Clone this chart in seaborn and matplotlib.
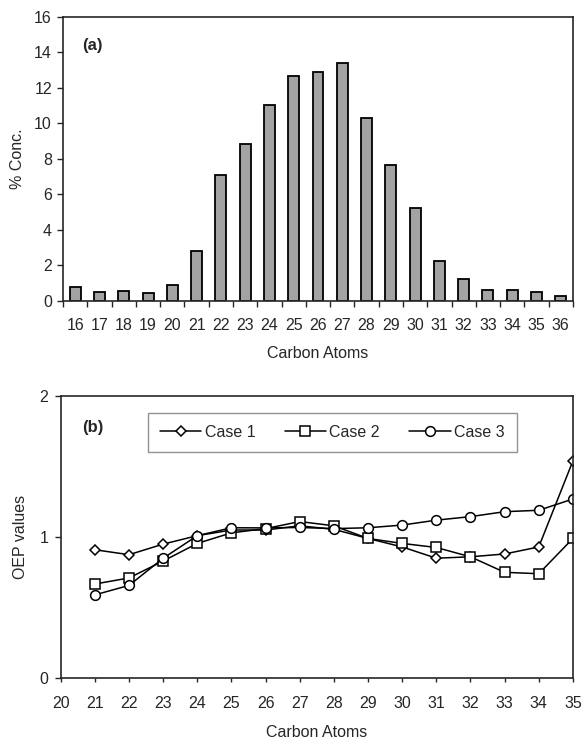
import numpy as np
import pandas as pd
import seaborn as sns
import matplotlib.pyplot as plt

# panel (a): n-alkane distribution
carbon_a = [16, 17, 18, 19, 20, 21, 22, 23, 24, 25, 26,
            27, 28, 29, 30, 31, 32, 33, 34, 35, 36]
conc = [0.8, 0.47, 0.56, 0.43, 0.9, 2.83, 7.1, 8.85, 11.03, 12.7, 12.92,
        13.39, 10.31, 7.68, 5.22, 2.25, 1.22, 0.58, 0.6, 0.49, 0.28]

# panel (b): OEP values
carbon_b = [21, 22, 23, 24, 25, 26, 27, 28, 29, 30, 31, 32, 33, 34, 35]
case1 = [0.91, 0.875, 0.95, 1.01, 1.05, 1.05, 1.08, 1.055, 0.99, 0.93,
         0.85, 0.86, 0.88, 0.93, 1.54]
case2 = [0.667, 0.71, 0.83, 0.955, 1.03, 1.06, 1.11, 1.08, 0.99, 0.955,
         0.926, 0.86, 0.75, 0.74, 0.99]
case3 = [0.59, 0.657, 0.85, 1.01, 1.066, 1.065, 1.068, 1.06, 1.066, 1.085,
         1.12, 1.145, 1.18, 1.19, 1.27]
case_names = ['Case 1', 'Case 2', 'Case 3']

sns.set_style("ticks")
plt.rcParams['font.family'] = ['Liberation Sans', 'DejaVu Sans']
plt.rcParams['font.size'] = 11.5

fig = plt.figure(figsize=(5.84, 7.39), dpi=100)
ax1 = fig.add_axes([0.108, 0.593, 0.873, 0.384])
ax2 = fig.add_axes([0.104, 0.0825, 0.877, 0.3815])

# ---- (a) bar chart
df_a = pd.DataFrame({'Carbon': [str(c) for c in carbon_a], 'Conc': conc})
sns.barplot(data=df_a, x='Carbon', y='Conc', color='#a3a3a3', saturation=1,
            width=0.45, edgecolor='black', linewidth=1.3, ax=ax1)
ax1.set_ylim(0, 16)
ax1.set_yticks(range(0, 17, 2))
ax1.set_xlim(-0.5, len(carbon_a) - 0.5)
ax1.tick_params(axis='x', which='major', length=0, pad=12.5)
ax1.set_xticks(np.arange(-0.5, len(carbon_a), 1), minor=True)
ax1.tick_params(axis='x', which='minor', length=4, width=1)
ax1.tick_params(axis='y', length=4, width=1, pad=4)
ax1.set_xlabel('Carbon Atoms', labelpad=9.5)
ax1.set_ylabel('% Conc.', labelpad=6.5)
ax1.text(0.037, 0.90, '(a)', transform=ax1.transAxes, fontweight='bold',
         va='center', fontsize=12)
for s in ax1.spines.values():
    s.set_visible(True)
    s.set_linewidth(1.2)

# ---- (b) line chart
df_b = pd.DataFrame({
    'Carbon': carbon_b * 3,
    'OEP': case1 + case2 + case3,
    'Case': [n for n in case_names for _ in carbon_b],
})
sns.lineplot(data=df_b, x='Carbon', y='OEP', hue='Case', style='Case',
             palette=['black'] * 3, markers=['D', 's', 'o'], dashes=False,
             markersize=7, markerfacecolor='white', markeredgecolor='black',
             markeredgewidth=1.1, linewidth=1.1, legend=False, ax=ax2)
lines = ax2.get_lines()
lines[0].set_markersize(5.5)
ax2.set_xlim(20, 35)
ax2.set_ylim(0, 2)
ax2.set_xticks(range(20, 36))
ax2.set_yticks([0, 1, 2])
ax2.tick_params(axis='x', length=3, width=1, pad=10)
ax2.tick_params(axis='y', length=4, width=1, pad=5)
ax2.set_xlabel('Carbon Atoms', labelpad=10)
ax2.set_ylabel('OEP values', labelpad=8)
ax2.text(0.041, 0.887, '(b)', transform=ax2.transAxes, fontweight='bold',
         va='center', fontsize=12)
for s in ax2.spines.values():
    s.set_visible(True)
    s.set_linewidth(1.2)
ax2.legend(lines[:3], case_names, loc='upper left', bbox_to_anchor=(0.17, 0.94),
           ncol=3, frameon=True, fancybox=False, edgecolor='#777777',
           handlelength=2.6, columnspacing=1.85, handletextpad=0.2,
           borderpad=0.75, borderaxespad=0, numpoints=1)

plt.savefig('out.png', dpi=100)
plt.close()
